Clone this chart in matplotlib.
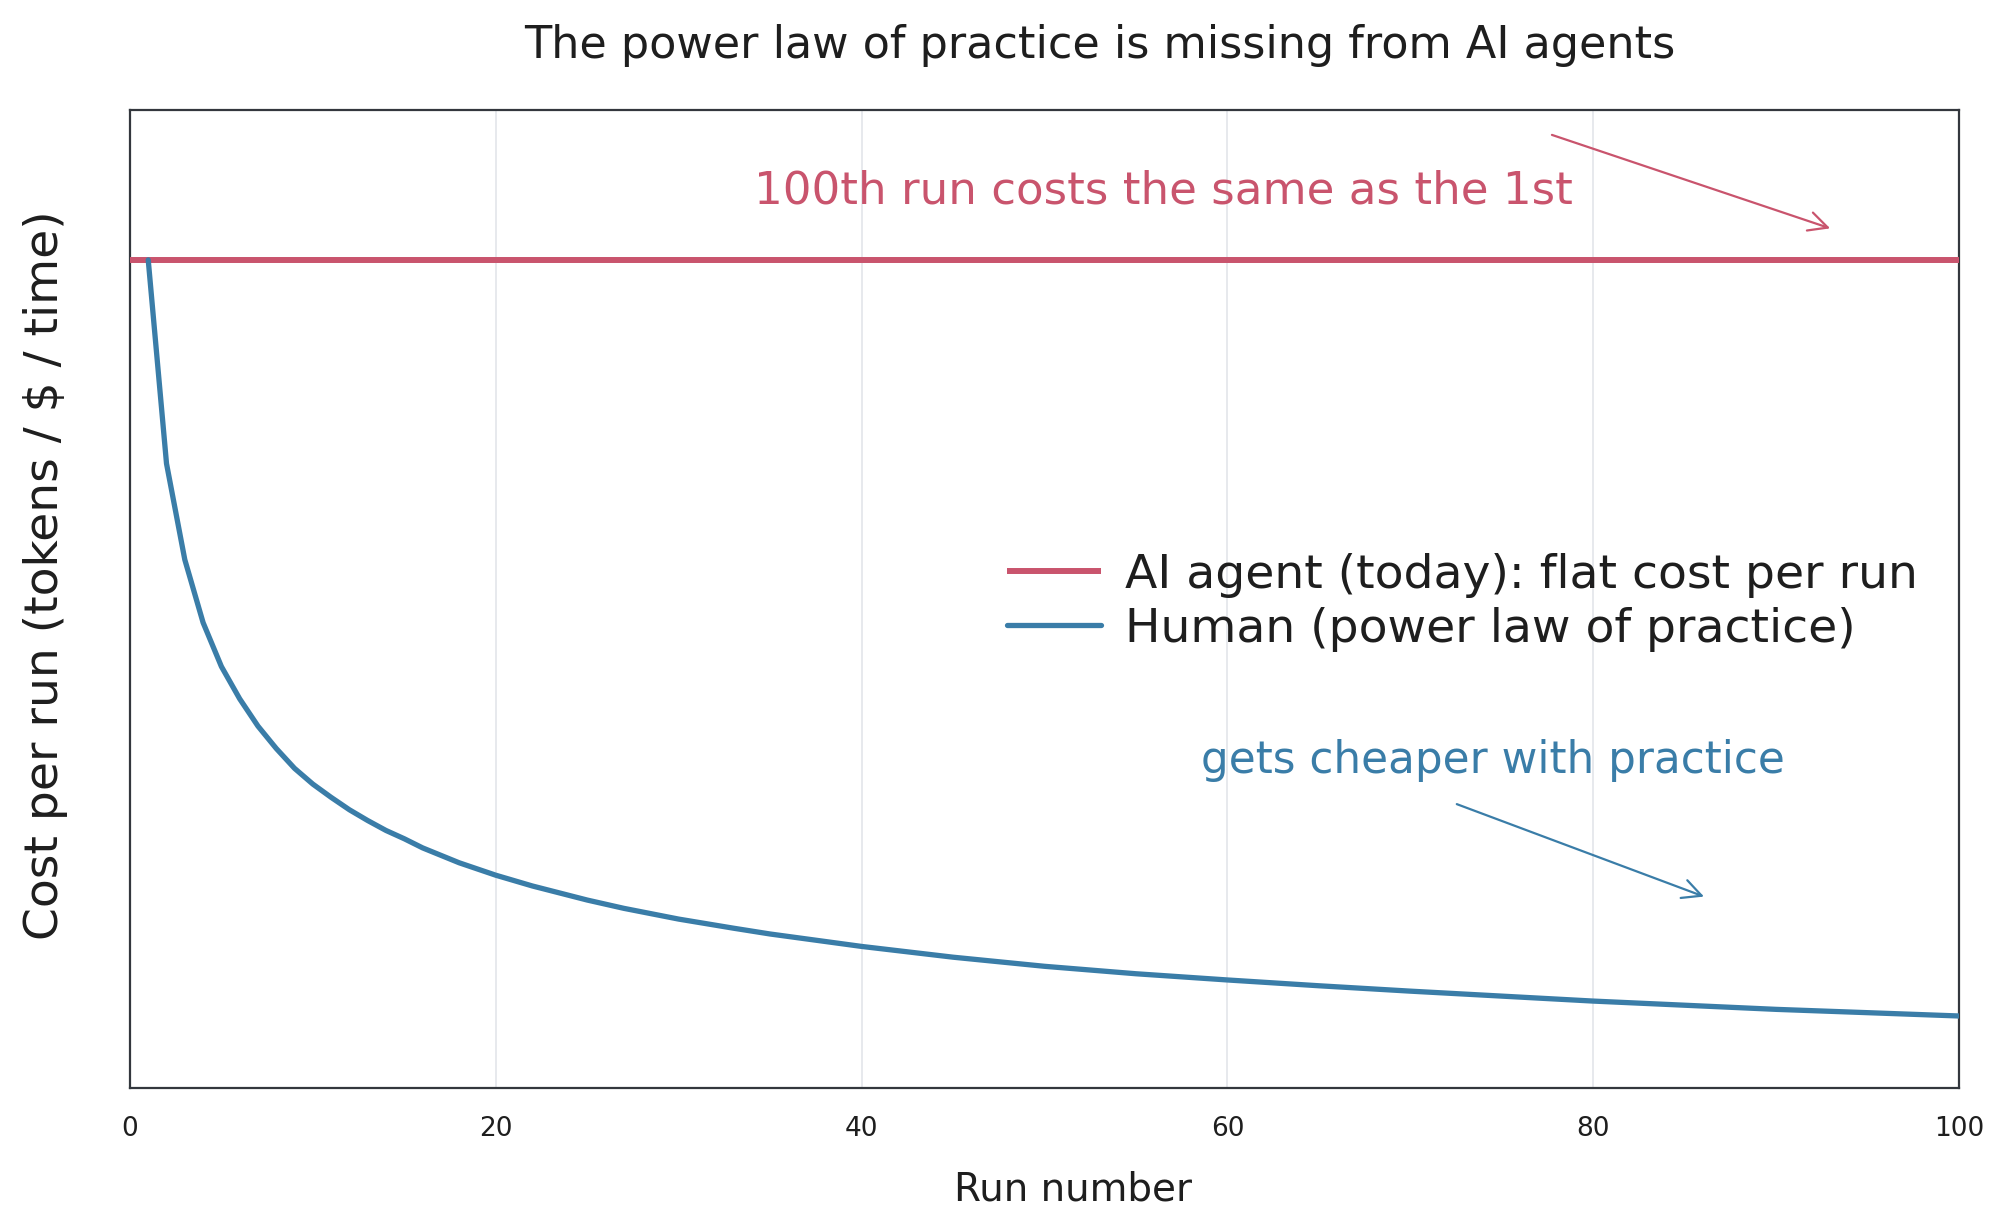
import numpy as np
import matplotlib
matplotlib.use('Agg')
import matplotlib.pyplot as plt

# run numbers and relative cost per run
runs = [1, 2, 3, 4, 5, 6, 7, 8, 9, 10, 11, 12, 13, 14, 15, 16, 18, 20, 22, 25,
        27, 30, 33, 35, 40, 45, 50, 55, 60, 65, 70, 75, 80, 85, 90, 95, 100]
human_cost = [1.0, 0.754, 0.638, 0.562, 0.509, 0.470, 0.437, 0.410, 0.386, 0.367,
              0.351, 0.336, 0.323, 0.311, 0.301, 0.290, 0.272, 0.257, 0.244, 0.227,
              0.217, 0.204, 0.193, 0.186, 0.171, 0.158, 0.147, 0.138, 0.1305, 0.1235,
              0.117, 0.111, 0.105, 0.100, 0.095, 0.091, 0.087]
agent_runs = [0, 100]
agent_cost = [1.0, 1.0]

xticks = [0, 20, 40, 60, 80, 100]

red = '#c9546d'
blue = '#3a7da8'
ink = '#1e1e1e'

plt.rcParams['font.family'] = ['DejaVu Sans']

fig = plt.figure(figsize=(19.99, 12.29), dpi=100)
ax = fig.add_axes([0.065, 0.1147, 0.915, 0.7958])

ax.plot(agent_runs, agent_cost, color=red, lw=4.3, solid_capstyle='butt',
        label='AI agent (today): flat cost per run', zorder=3)
ax.plot(runs, human_cost, color=blue, lw=3.8, solid_capstyle='round',
        label='Human (power law of practice)', zorder=4)

ax.set_xlim(0, 100)
ax.set_ylim(0, 1.181)
ax.set_xticks(xticks)
ax.set_yticks([])
ax.tick_params(axis='x', length=0, pad=20, labelsize=19, labelcolor=ink)
ax.grid(axis='x', color='#e3e5ea', lw=1.2)
ax.set_axisbelow(True)
for s in ax.spines.values():
    s.set_color('#33373d')
    s.set_linewidth(1.6)

ax.set_xlabel('Run number', fontsize=28, color=ink)
ax.xaxis.set_label_coords(0.5156, -0.084)
ax.set_ylabel('Cost per run (tokens / $ / time)', fontsize=34, color=ink)
ax.yaxis.set_label_coords(-0.034, 0.5245)

ax.set_title('The power law of practice is missing from AI agents',
             fontsize=32, color=ink, x=0.53, y=1.057, va='center')

# annotations
ax.text(56.5, 1.083, '100th run costs the same as the 1st', color=red,
        fontsize=32.5, ha='center', va='center')
ax.annotate('', xy=(93.1, 1.037), xytext=(77.6, 1.152),
            arrowprops=dict(arrowstyle='->', color=red, lw=1.6,
                            mutation_scale=34))
ax.text(74.5, 0.396, 'gets cheaper with practice', color=blue,
        fontsize=31.5, ha='center', va='center')
ax.annotate('', xy=(86.2, 0.230), xytext=(72.4, 0.344),
            arrowprops=dict(arrowstyle='->', color=blue, lw=1.6,
                            mutation_scale=34))

leg = ax.legend(loc='center left', bbox_to_anchor=(0.4795, 0.4965),
                frameon=False, fontsize=34, handlelength=2.0,
                handletextpad=0.49, labelspacing=0.19, borderpad=0,
                borderaxespad=0)
for t in leg.get_texts():
    t.set_color(ink)

fig.savefig('out.png', dpi=100)
